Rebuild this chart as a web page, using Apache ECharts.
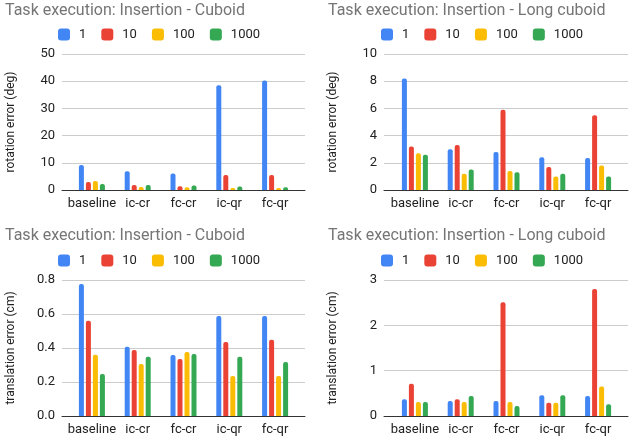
<!DOCTYPE html>
<html>
<head>
<meta charset="utf-8">
<script src="https://cdn.jsdelivr.net/npm/echarts@6/dist/echarts.min.js"></script>
<style>
  html, body { margin: 0; padding: 0; background: #fff; }
  #chart { width: 634px; height: 442px; }
</style>
</head>
<body>
<div id="chart"></div>
<script>
const categories = ['baseline', 'ic-cr', 'fc-cr', 'ic-qr', 'fc-qr'];
const seriesNames = ['1', '10', '100', '1000'];
const colors = ['#4285F4', '#EA4335', '#FBBC04', '#34A853'];

// rotation error (deg), cuboid
const rotCuboid1 = [9.2, 6.9, 6.1, 38.5, 40.3];
const rotCuboid10 = [2.9, 1.8, 1.4, 5.5, 5.5];
const rotCuboid100 = [3.3, 1.1, 1.0, 0.7, 0.7];
const rotCuboid1000 = [2.2, 1.8, 1.7, 1.3, 1.0];

// rotation error (deg), long cuboid
const rotLong1 = [8.2, 3.0, 2.8, 2.4, 2.35];
const rotLong10 = [3.2, 3.3, 5.9, 1.7, 5.5];
const rotLong100 = [2.7, 1.2, 1.4, 1.0, 1.8];
const rotLong1000 = [2.6, 1.5, 1.3, 1.2, 1.0];

// translation error (cm), cuboid
const transCuboid1 = [0.776, 0.408, 0.359, 0.588, 0.588];
const transCuboid10 = [0.56, 0.388, 0.335, 0.435, 0.449];
const transCuboid100 = [0.36, 0.306, 0.376, 0.235, 0.235];
const transCuboid1000 = [0.247, 0.349, 0.365, 0.349, 0.318];

// translation error (cm), long cuboid
const transLong1 = [0.37, 0.33, 0.33, 0.46, 0.44];
const transLong10 = [0.71, 0.37, 2.51, 0.29, 2.80];
const transLong100 = [0.31, 0.31, 0.31, 0.29, 0.65];
const transLong1000 = [0.31, 0.44, 0.22, 0.46, 0.26];

// frame = gridlines/axis line area, band = where the categories sit
const panels = [
  { title: 'Task execution: Insertion - Cuboid', yName: 'rotation error (deg)', max: 50, interval: 10,
    data: [rotCuboid1, rotCuboid10, rotCuboid100, rotCuboid1000], decimals: 0,
    frame: { left: 62, right: 329, top: 54, bottom: 252 },
    band: { left: 69, right: 336, top: 54, bottom: 252 },
    titlePos: [5, 3], legendPos: [58, 28] },
  { title: 'Task execution: Insertion - Long cuboid', yName: 'rotation error (deg)', max: 10, interval: 2,
    data: [rotLong1, rotLong10, rotLong100, rotLong1000], decimals: 0,
    frame: { left: 384, right: 6, top: 54, bottom: 252 },
    band: { left: 392, right: 13, top: 54, bottom: 252 },
    titlePos: [328, 3], legendPos: [381, 28] },
  { title: 'Task execution: Insertion - Cuboid', yName: 'translation error (cm)', max: 0.8, interval: 0.2,
    data: [transCuboid1, transCuboid10, transCuboid100, transCuboid1000], decimals: 1,
    frame: { left: 62, right: 329, top: 280, bottom: 26 },
    band: { left: 69, right: 336, top: 280, bottom: 26 },
    titlePos: [5, 228], legendPos: [58, 254] },
  { title: 'Task execution: Insertion - Long cuboid', yName: 'translation error (cm)', max: 3, interval: 1,
    data: [transLong1, transLong10, transLong100, transLong1000], decimals: 0,
    frame: { left: 384, right: 6, top: 280, bottom: 26 },
    band: { left: 392, right: 13, top: 280, bottom: 26 },
    titlePos: [328, 228], legendPos: [381, 254] }
];

const font = 'Roboto, Arial, sans-serif';
const chart = echarts.init(document.getElementById('chart'));

const option = {
  animation: false,
  color: colors,
  textStyle: { fontFamily: font },
  title: panels.map(p => ({
    text: p.title, left: p.titlePos[0], top: p.titlePos[1], padding: 0,
    textStyle: { fontSize: 16, fontWeight: 'normal', color: '#757575', fontFamily: font }
  })),
  legend: panels.map(p => ({
    data: seriesNames, left: p.legendPos[0], top: p.legendPos[1], padding: 0,
    icon: 'roundRect', itemWidth: 12, itemHeight: 12, itemGap: 15,
    textStyle: { fontSize: 13, color: '#222', fontFamily: font, padding: [0, 0, 0, 4] }
  })),
  grid: [],
  xAxis: [],
  yAxis: [],
  series: []
};

panels.forEach((p, i) => {
  const gFrame = option.grid.length;
  option.grid.push(p.frame, p.band);
  // frame axes: gridlines, y labels, axis name, baseline
  option.xAxis.push({
    type: 'category', gridIndex: gFrame, data: categories,
    axisTick: { show: false }, axisLabel: { show: false },
    axisLine: { lineStyle: { color: '#333', width: 1 } }
  });
  option.yAxis.push({
    type: 'value', gridIndex: gFrame, min: 0, max: p.max, interval: p.interval,
    name: p.yName, nameLocation: 'middle', nameGap: 45, nameRotate: 90,
    nameTextStyle: { fontSize: 12, color: '#222', fontFamily: font },
    axisLine: { show: false }, axisTick: { show: false },
    splitLine: { lineStyle: { color: '#ccc' } },
    axisLabel: { fontSize: 13, color: '#222', margin: 7, fontFamily: font,
      formatter: v => v.toFixed(p.decimals) }
  });
  // band axes: categories and bars
  option.xAxis.push({
    type: 'category', gridIndex: gFrame + 1, data: categories,
    axisTick: { show: false }, axisLine: { show: false },
    axisLabel: { interval: 0, fontSize: 13, color: '#222', margin: 7, fontFamily: font }
  });
  option.yAxis.push({
    type: 'value', gridIndex: gFrame + 1, min: 0, max: p.max, interval: p.interval,
    show: false, splitLine: { show: false }
  });
  seriesNames.forEach((name, k) => {
    option.series.push({
      type: 'bar', name: name, xAxisIndex: gFrame + 1, yAxisIndex: gFrame + 1,
      data: p.data[k], barWidth: 5, barGap: '40%',
      itemStyle: { color: colors[k], borderRadius: [2, 2, 0, 0] }
    });
  });
});

chart.setOption(option);
</script>
</body>
</html>
